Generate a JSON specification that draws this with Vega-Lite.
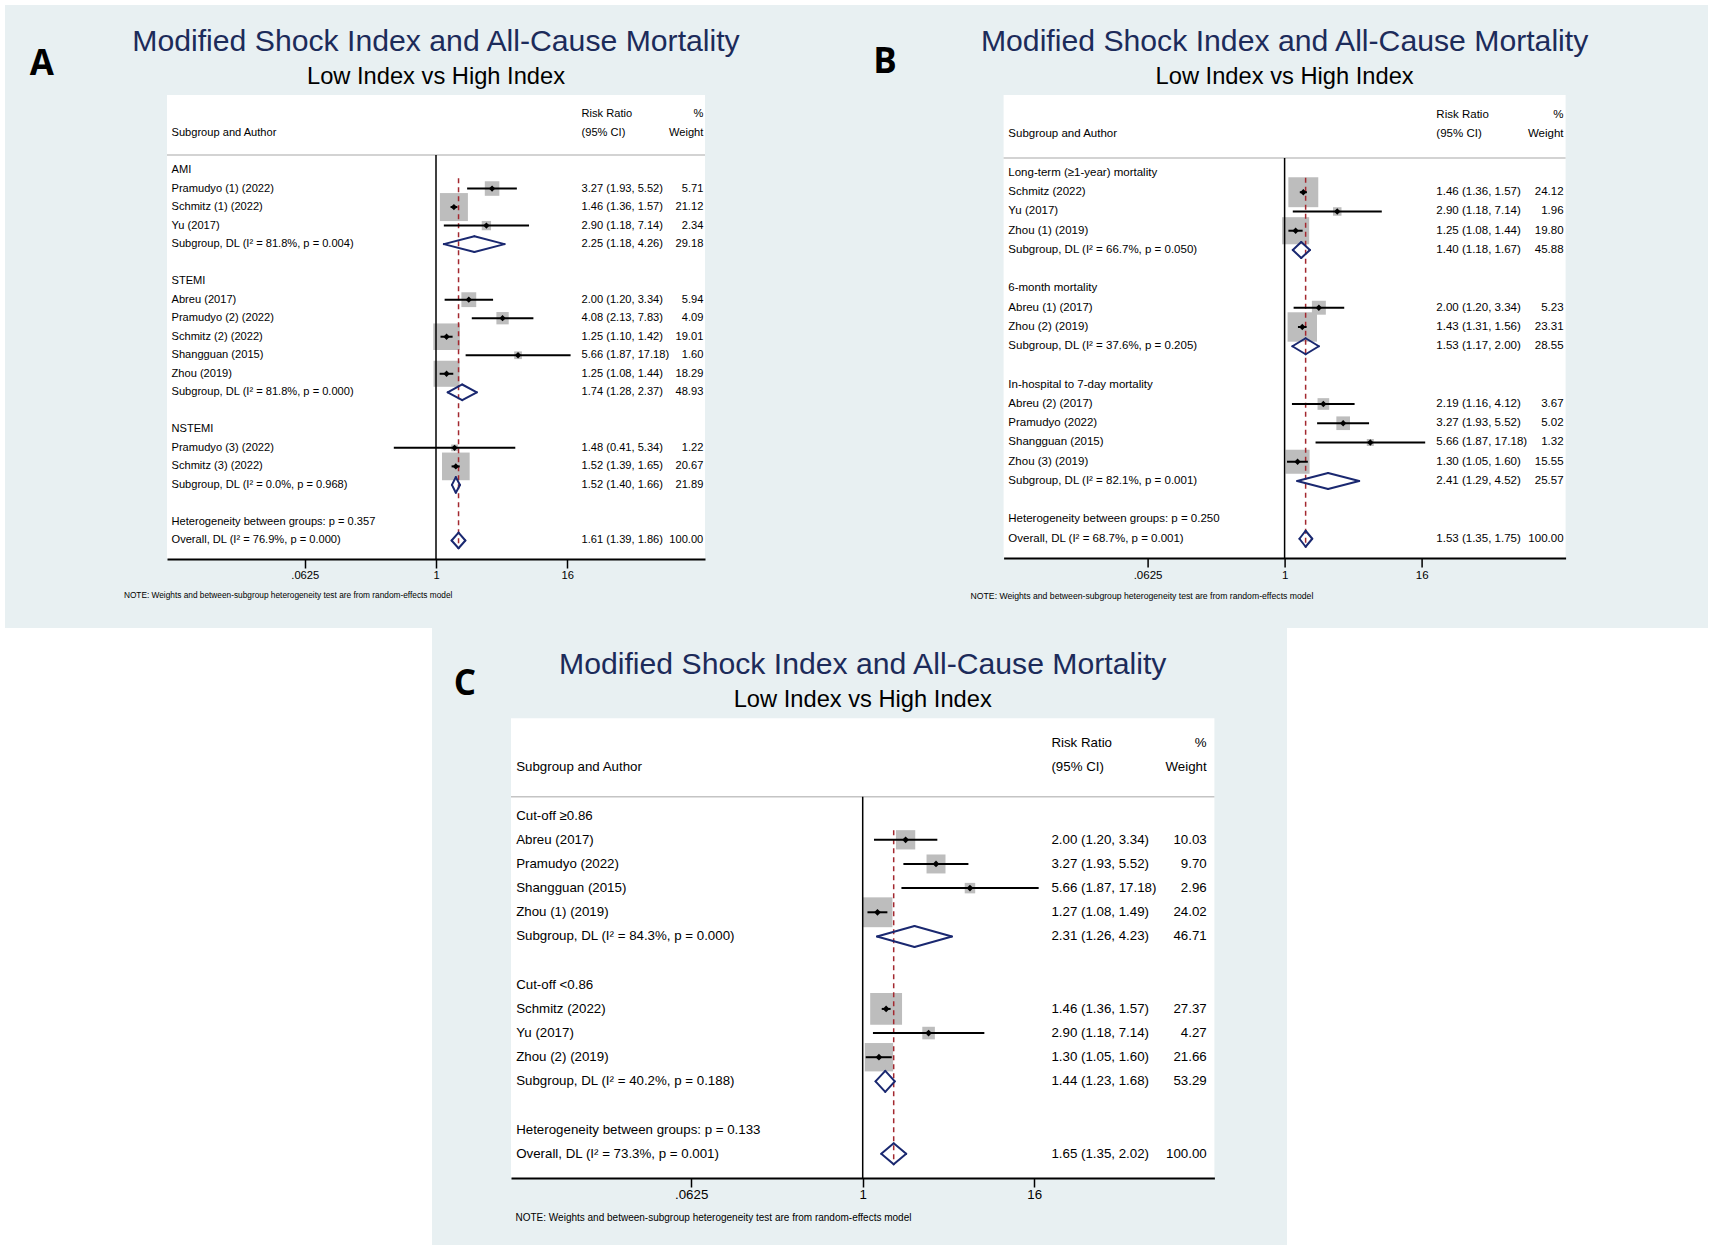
{
"$schema": "https://vega.github.io/schema/vega-lite/v6.json",
"padding": {"left": 5, "top": 4, "right": 5, "bottom": 0},
"background": "#ffffff",
"config": {"view": {"stroke": null}, "axis": {"grid": false}},
"datasets": {
"rows": [
{"p":"A","row":-3,"kind":"head","label":"","ci":"Risk Ratio","w":"%"},
{"p":"A","row":-2,"kind":"head","label":"Subgroup and Author","ci":"(95% CI)","w":"Weight"},
{"p":"A","row":0,"kind":"group","label":"AMI"},
{"p":"A","row":1,"kind":"study","label":"Pramudyo (1) (2022)","rr":3.27,"lo":1.93,"hi":5.52,"wt":5.71,"ci":"3.27 (1.93, 5.52)","w":"5.71"},
{"p":"A","row":2,"kind":"study","label":"Schmitz (1) (2022)","rr":1.46,"lo":1.36,"hi":1.57,"wt":21.12,"ci":"1.46 (1.36, 1.57)","w":"21.12"},
{"p":"A","row":3,"kind":"study","label":"Yu (2017)","rr":2.90,"lo":1.18,"hi":7.14,"wt":2.34,"ci":"2.90 (1.18, 7.14)","w":"2.34"},
{"p":"A","row":4,"kind":"pooled","label":"Subgroup, DL (I² = 81.8%, p = 0.004)","rr":2.25,"lo":1.18,"hi":4.26,"wt":29.18,"ci":"2.25 (1.18, 4.26)","w":"29.18"},
{"p":"A","row":6,"kind":"group","label":"STEMI"},
{"p":"A","row":7,"kind":"study","label":"Abreu (2017)","rr":2.00,"lo":1.20,"hi":3.34,"wt":5.94,"ci":"2.00 (1.20, 3.34)","w":"5.94"},
{"p":"A","row":8,"kind":"study","label":"Pramudyo (2) (2022)","rr":4.08,"lo":2.13,"hi":7.83,"wt":4.09,"ci":"4.08 (2.13, 7.83)","w":"4.09"},
{"p":"A","row":9,"kind":"study","label":"Schmitz (2) (2022)","rr":1.25,"lo":1.10,"hi":1.42,"wt":19.01,"ci":"1.25 (1.10, 1.42)","w":"19.01"},
{"p":"A","row":10,"kind":"study","label":"Shangguan (2015)","rr":5.66,"lo":1.87,"hi":17.18,"wt":1.60,"ci":"5.66 (1.87, 17.18)","w":"1.60"},
{"p":"A","row":11,"kind":"study","label":"Zhou (2019)","rr":1.25,"lo":1.08,"hi":1.44,"wt":18.29,"ci":"1.25 (1.08, 1.44)","w":"18.29"},
{"p":"A","row":12,"kind":"pooled","label":"Subgroup, DL (I² = 81.8%, p = 0.000)","rr":1.74,"lo":1.28,"hi":2.37,"wt":48.93,"ci":"1.74 (1.28, 2.37)","w":"48.93"},
{"p":"A","row":14,"kind":"group","label":"NSTEMI"},
{"p":"A","row":15,"kind":"study","label":"Pramudyo (3) (2022)","rr":1.48,"lo":0.41,"hi":5.34,"wt":1.22,"ci":"1.48 (0.41, 5.34)","w":"1.22"},
{"p":"A","row":16,"kind":"study","label":"Schmitz (3) (2022)","rr":1.52,"lo":1.39,"hi":1.65,"wt":20.67,"ci":"1.52 (1.39, 1.65)","w":"20.67"},
{"p":"A","row":17,"kind":"pooled","label":"Subgroup, DL (I² = 0.0%, p = 0.968)","rr":1.52,"lo":1.40,"hi":1.66,"wt":21.89,"ci":"1.52 (1.40, 1.66)","w":"21.89"},
{"p":"A","row":19,"kind":"het","label":"Heterogeneity between groups: p = 0.357"},
{"p":"A","row":20,"kind":"overall","label":"Overall, DL (I² = 76.9%, p = 0.000)","rr":1.61,"lo":1.39,"hi":1.86,"wt":100,"ci":"1.61 (1.39, 1.86)","w":"100.00"},
{"p":"B","row":-3,"kind":"head","label":"","ci":"Risk Ratio","w":"%"},
{"p":"B","row":-2,"kind":"head","label":"Subgroup and Author","ci":"(95% CI)","w":"Weight"},
{"p":"B","row":0,"kind":"group","label":"Long-term (≥1-year) mortality"},
{"p":"B","row":1,"kind":"study","label":"Schmitz (2022)","rr":1.46,"lo":1.36,"hi":1.57,"wt":24.12,"ci":"1.46 (1.36, 1.57)","w":"24.12"},
{"p":"B","row":2,"kind":"study","label":"Yu (2017)","rr":2.90,"lo":1.18,"hi":7.14,"wt":1.96,"ci":"2.90 (1.18, 7.14)","w":"1.96"},
{"p":"B","row":3,"kind":"study","label":"Zhou (1) (2019)","rr":1.25,"lo":1.08,"hi":1.44,"wt":19.80,"ci":"1.25 (1.08, 1.44)","w":"19.80"},
{"p":"B","row":4,"kind":"pooled","label":"Subgroup, DL (I² = 66.7%, p = 0.050)","rr":1.40,"lo":1.18,"hi":1.67,"wt":45.88,"ci":"1.40 (1.18, 1.67)","w":"45.88"},
{"p":"B","row":6,"kind":"group","label":"6-month mortality"},
{"p":"B","row":7,"kind":"study","label":"Abreu (1) (2017)","rr":2.00,"lo":1.20,"hi":3.34,"wt":5.23,"ci":"2.00 (1.20, 3.34)","w":"5.23"},
{"p":"B","row":8,"kind":"study","label":"Zhou (2) (2019)","rr":1.43,"lo":1.31,"hi":1.56,"wt":23.31,"ci":"1.43 (1.31, 1.56)","w":"23.31"},
{"p":"B","row":9,"kind":"pooled","label":"Subgroup, DL (I² = 37.6%, p = 0.205)","rr":1.53,"lo":1.17,"hi":2.00,"wt":28.55,"ci":"1.53 (1.17, 2.00)","w":"28.55"},
{"p":"B","row":11,"kind":"group","label":"In-hospital to 7-day mortality"},
{"p":"B","row":12,"kind":"study","label":"Abreu (2) (2017)","rr":2.19,"lo":1.16,"hi":4.12,"wt":3.67,"ci":"2.19 (1.16, 4.12)","w":"3.67"},
{"p":"B","row":13,"kind":"study","label":"Pramudyo (2022)","rr":3.27,"lo":1.93,"hi":5.52,"wt":5.02,"ci":"3.27 (1.93, 5.52)","w":"5.02"},
{"p":"B","row":14,"kind":"study","label":"Shangguan (2015)","rr":5.66,"lo":1.87,"hi":17.18,"wt":1.32,"ci":"5.66 (1.87, 17.18)","w":"1.32"},
{"p":"B","row":15,"kind":"study","label":"Zhou (3) (2019)","rr":1.30,"lo":1.05,"hi":1.60,"wt":15.55,"ci":"1.30 (1.05, 1.60)","w":"15.55"},
{"p":"B","row":16,"kind":"pooled","label":"Subgroup, DL (I² = 82.1%, p = 0.001)","rr":2.41,"lo":1.29,"hi":4.52,"wt":25.57,"ci":"2.41 (1.29, 4.52)","w":"25.57"},
{"p":"B","row":18,"kind":"het","label":"Heterogeneity between groups: p = 0.250"},
{"p":"B","row":19,"kind":"overall","label":"Overall, DL (I² = 68.7%, p = 0.001)","rr":1.53,"lo":1.35,"hi":1.75,"wt":100,"ci":"1.53 (1.35, 1.75)","w":"100.00"},
{"p":"C","row":-3,"kind":"head","label":"","ci":"Risk Ratio","w":"%"},
{"p":"C","row":-2,"kind":"head","label":"Subgroup and Author","ci":"(95% CI)","w":"Weight"},
{"p":"C","row":0,"kind":"group","label":"Cut-off ≥0.86"},
{"p":"C","row":1,"kind":"study","label":"Abreu (2017)","rr":2.00,"lo":1.20,"hi":3.34,"wt":10.03,"ci":"2.00 (1.20, 3.34)","w":"10.03"},
{"p":"C","row":2,"kind":"study","label":"Pramudyo (2022)","rr":3.27,"lo":1.93,"hi":5.52,"wt":9.70,"ci":"3.27 (1.93, 5.52)","w":"9.70"},
{"p":"C","row":3,"kind":"study","label":"Shangguan (2015)","rr":5.66,"lo":1.87,"hi":17.18,"wt":2.96,"ci":"5.66 (1.87, 17.18)","w":"2.96"},
{"p":"C","row":4,"kind":"study","label":"Zhou (1) (2019)","rr":1.27,"lo":1.08,"hi":1.49,"wt":24.02,"ci":"1.27 (1.08, 1.49)","w":"24.02"},
{"p":"C","row":5,"kind":"pooled","label":"Subgroup, DL (I² = 84.3%, p = 0.000)","rr":2.31,"lo":1.26,"hi":4.23,"wt":46.71,"ci":"2.31 (1.26, 4.23)","w":"46.71"},
{"p":"C","row":7,"kind":"group","label":"Cut-off <0.86"},
{"p":"C","row":8,"kind":"study","label":"Schmitz (2022)","rr":1.46,"lo":1.36,"hi":1.57,"wt":27.37,"ci":"1.46 (1.36, 1.57)","w":"27.37"},
{"p":"C","row":9,"kind":"study","label":"Yu (2017)","rr":2.90,"lo":1.18,"hi":7.14,"wt":4.27,"ci":"2.90 (1.18, 7.14)","w":"4.27"},
{"p":"C","row":10,"kind":"study","label":"Zhou (2) (2019)","rr":1.30,"lo":1.05,"hi":1.60,"wt":21.66,"ci":"1.30 (1.05, 1.60)","w":"21.66"},
{"p":"C","row":11,"kind":"pooled","label":"Subgroup, DL (I² = 40.2%, p = 0.188)","rr":1.44,"lo":1.23,"hi":1.68,"wt":53.29,"ci":"1.44 (1.23, 1.68)","w":"53.29"},
{"p":"C","row":13,"kind":"het","label":"Heterogeneity between groups: p = 0.133"},
{"p":"C","row":14,"kind":"overall","label":"Overall, DL (I² = 73.3%, p = 0.001)","rr":1.65,"lo":1.35,"hi":2.02,"wt":100,"ci":"1.65 (1.35, 2.02)","w":"100.00"}
]
},
"spacing": 623.3,
"bounds": "flush",
"vconcat": [
{"hconcat": [
{
"width": 538, "height": 464,
"layer": [
{"data": {"values": [{}]}, "mark": {"type": "rect", "fill": "#e8f0f2"},
 "encoding": {
  "x": {"datum": 0.0001109, "type": "quantitative", "scale": {"type": "log", "domain": [0.0034, 294.07], "nice": false},
        "axis": {"zindex": 1, "values": [0.0625, 1, 16], "labelExpr": "datum.value < 0.1 ? '.0625' : datum.value < 2 ? '1' : '16'", "grid": false, "domainColor": "#000000", "domainWidth": 2, "tickColor": "#000000", "tickWidth": 1.5, "tickSize": 9, "labelFont": "Liberation Sans", "labelFontSize": 11.2, "labelColor": "#000000", "labelPadding": 1, "labelFlush": false, "title": "NOTE: Weights and between-subgroup heterogeneity test are from random-effects model", "titleFont": "Liberation Sans", "titleFontSize": 8.3, "titleFontWeight": "normal", "titleColor": "#000000", "titleX": -43.6, "titleY": 36.2, "titleAlign": "left", "titleBaseline": "middle"}},
  "x2": {"datum": 7777},
  "y": {"datum": -8.909, "type": "quantitative", "scale": {"domain": [-4.05, 21], "reverse": true, "nice": false, "zero": false}, "axis": null},
  "y2": {"datum": 24.725}}},
{"data": {"values": [{}]}, "mark": {"type": "rect", "fill": "#ffffff"},
 "encoding": {"x": {"datum": 0.0034, "type": "quantitative"}, "x2": {"datum": 294.07}, "y": {"datum": -4.05, "type": "quantitative", "axis": null}, "y2": {"datum": 21}}},
{"data": {"values": [{}]}, "mark": {"type": "rule", "stroke": "#c4c4c4", "strokeWidth": 1.5},
 "encoding": {"x": {"datum": 0.0034, "type": "quantitative"}, "x2": {"datum": 294.07}, "y": {"datum": -0.81, "type": "quantitative", "axis": null}}},
{"data": {"name": "rows"}, "transform": [{"filter": "datum.p === 'A' && datum.kind === 'study'"}],
 "mark": {"type": "point", "shape": "square", "filled": true, "color": "#bdbdbd", "opacity": 1},
 "encoding": {"x": {"field": "rr", "type": "quantitative"}, "y": {"field": "row", "type": "quantitative", "axis": null},
  "size": {"field": "wt", "type": "quantitative", "scale": {"domain": [0, 100], "range": [0, 3710]}, "legend": null}}},
{"data": {"values": [{}]}, "mark": {"type": "rule", "stroke": "#000000", "strokeWidth": 1.5},
 "encoding": {"x": {"datum": 1, "type": "quantitative"}, "y": {"datum": -0.81, "type": "quantitative", "axis": null}, "y2": {"datum": 21}}},
{"data": {"values": [{}]}, "mark": {"type": "rule", "stroke": "#a3282f", "strokeWidth": 1.5, "strokeDash": [5, 4]},
 "encoding": {"x": {"datum": 1.61, "type": "quantitative"}, "y": {"datum": 0.45, "type": "quantitative", "axis": null}, "y2": {"datum": 20.45}}},
{"data": {"name": "rows"}, "transform": [{"filter": "datum.p === 'A' && datum.kind === 'study'"}],
 "mark": {"type": "rule", "stroke": "#000000", "strokeWidth": 2},
 "encoding": {"x": {"field": "lo", "type": "quantitative"}, "x2": {"field": "hi"}, "y": {"field": "row", "type": "quantitative", "axis": null}}},
{"data": {"name": "rows"}, "transform": [{"filter": "datum.p === 'A' && datum.kind === 'study'"}],
 "mark": {"type": "point", "shape": "diamond", "filled": true, "color": "#000000", "opacity": 1, "size": 40},
 "encoding": {"x": {"field": "rr", "type": "quantitative"}, "y": {"field": "row", "type": "quantitative", "axis": null}}},
{"data": {"name": "rows"}, "transform": [{"filter": "datum.p === 'A' && (datum.kind === 'pooled' || datum.kind === 'overall')"}],
 "mark": {"type": "rule", "stroke": "#1a2870", "strokeWidth": 2, "strokeCap": "round", "y2Offset": -7.8},
 "encoding": {"x": {"field": "lo", "type": "quantitative"}, "x2": {"field": "rr"}, "y": {"field": "row", "type": "quantitative", "axis": null}, "y2": {"field": "row"}}},
{"data": {"name": "rows"}, "transform": [{"filter": "datum.p === 'A' && (datum.kind === 'pooled' || datum.kind === 'overall')"}],
 "mark": {"type": "rule", "stroke": "#1a2870", "strokeWidth": 2, "strokeCap": "round", "y2Offset": 7.8},
 "encoding": {"x": {"field": "lo", "type": "quantitative"}, "x2": {"field": "rr"}, "y": {"field": "row", "type": "quantitative", "axis": null}, "y2": {"field": "row"}}},
{"data": {"name": "rows"}, "transform": [{"filter": "datum.p === 'A' && (datum.kind === 'pooled' || datum.kind === 'overall')"}],
 "mark": {"type": "rule", "stroke": "#1a2870", "strokeWidth": 2, "strokeCap": "round", "yOffset": -7.8},
 "encoding": {"x": {"field": "rr", "type": "quantitative"}, "x2": {"field": "hi"}, "y": {"field": "row", "type": "quantitative", "axis": null}, "y2": {"field": "row"}}},
{"data": {"name": "rows"}, "transform": [{"filter": "datum.p === 'A' && (datum.kind === 'pooled' || datum.kind === 'overall')"}],
 "mark": {"type": "rule", "stroke": "#1a2870", "strokeWidth": 2, "strokeCap": "round", "yOffset": 7.8},
 "encoding": {"x": {"field": "rr", "type": "quantitative"}, "x2": {"field": "hi"}, "y": {"field": "row", "type": "quantitative", "axis": null}, "y2": {"field": "row"}}},
{"data": {"name": "rows"}, "transform": [{"filter": "datum.p === 'A'"}],
 "mark": {"type": "text", "align": "left", "baseline": "middle", "font": "Liberation Sans", "fontSize": 11.1, "color": "#000000"},
 "encoding": {"x": {"datum": 0.00374, "type": "quantitative"}, "y": {"field": "row", "type": "quantitative", "axis": null}, "text": {"field": "label"}}},
{"data": {"name": "rows"}, "transform": [{"filter": "datum.p === 'A' && datum.ci"}],
 "mark": {"type": "text", "align": "left", "baseline": "middle", "font": "Liberation Sans", "fontSize": 11.1, "color": "#000000"},
 "encoding": {"x": {"datum": 21.66, "type": "quantitative"}, "y": {"field": "row", "type": "quantitative", "axis": null}, "text": {"field": "ci"}}},
{"data": {"name": "rows"}, "transform": [{"filter": "datum.p === 'A' && datum.w"}],
 "mark": {"type": "text", "align": "right", "baseline": "middle", "font": "Liberation Sans", "fontSize": 11.1, "color": "#000000"},
 "encoding": {"x": {"datum": 283.7, "type": "quantitative"}, "y": {"field": "row", "type": "quantitative", "axis": null}, "text": {"field": "w"}}},
{"data": {"values": [{}]}, "mark": {"type": "text", "align": "center", "baseline": "alphabetic", "font": "Liberation Sans", "fontSize": 30.2, "color": "#1c2b5a"},
 "encoding": {"x": {"datum": 1, "type": "quantitative"}, "y": {"datum": -6.425, "type": "quantitative", "axis": null}, "text": {"value": "Modified Shock Index and All-Cause Mortality"}}},
{"data": {"values": [{}]}, "mark": {"type": "text", "align": "center", "baseline": "alphabetic", "font": "Liberation Sans", "fontSize": 23.7, "color": "#000000"},
 "encoding": {"x": {"datum": 1, "type": "quantitative"}, "y": {"datum": -4.628, "type": "quantitative", "axis": null}, "text": {"value": "Low Index vs High Index"}}},
{"data": {"values": [{}]}, "mark": {"type": "text", "align": "center", "baseline": "alphabetic", "font": "Open Sans", "fontWeight": "bold", "fontSize": 35, "color": "#000000"},
 "encoding": {"x": {"datum": 0.0002414, "type": "quantitative"}, "y": {"datum": -5.13, "type": "quantitative", "axis": null}, "text": {"value": "A"}}}
]
},
{
"width": 562, "height": 463,
"layer": [
{"data": {"values": [{}]}, "mark": {"type": "rect", "fill": "#e8f0f2"},
 "encoding": {
  "x": {"datum": 0.0001526, "type": "quantitative", "scale": {"type": "log", "domain": [0.0034, 294.07], "nice": false},
        "axis": {"zindex": 1, "values": [0.0625, 1, 16], "labelExpr": "datum.value < 0.1 ? '.0625' : datum.value < 2 ? '1' : '16'", "grid": false, "domainColor": "#000000", "domainWidth": 2, "tickColor": "#000000", "tickWidth": 1.5, "tickSize": 9, "labelFont": "Liberation Sans", "labelFontSize": 11.5, "labelColor": "#000000", "labelPadding": 2.3, "labelFlush": false, "title": "NOTE: Weights and between-subgroup heterogeneity test are from random-effects model", "titleFont": "Liberation Sans", "titleFontSize": 8.66, "titleFontWeight": "normal", "titleColor": "#000000", "titleX": -33.5, "titleY": 37.2, "titleAlign": "left", "titleBaseline": "middle"}},
  "x2": {"datum": 5239},
  "y": {"datum": -8.725, "type": "quantitative", "scale": {"domain": [-4.05, 20], "reverse": true, "nice": false, "zero": false}, "axis": null},
  "y2": {"datum": 23.635}}},
{"data": {"values": [{}]}, "mark": {"type": "rect", "fill": "#ffffff"},
 "encoding": {"x": {"datum": 0.0034, "type": "quantitative"}, "x2": {"datum": 294.07}, "y": {"datum": -4.05, "type": "quantitative", "axis": null}, "y2": {"datum": 20}}},
{"data": {"values": [{}]}, "mark": {"type": "rule", "stroke": "#c4c4c4", "strokeWidth": 1.5},
 "encoding": {"x": {"datum": 0.0034, "type": "quantitative"}, "x2": {"datum": 294.07}, "y": {"datum": -0.777, "type": "quantitative", "axis": null}}},
{"data": {"name": "rows"}, "transform": [{"filter": "datum.p === 'B' && datum.kind === 'study'"}],
 "mark": {"type": "point", "shape": "square", "filled": true, "color": "#bdbdbd", "opacity": 1},
 "encoding": {"x": {"field": "rr", "type": "quantitative"}, "y": {"field": "row", "type": "quantitative", "axis": null},
  "size": {"field": "wt", "type": "quantitative", "scale": {"domain": [0, 100], "range": [0, 3340]}, "legend": null}}},
{"data": {"values": [{}]}, "mark": {"type": "rule", "stroke": "#000000", "strokeWidth": 1.5},
 "encoding": {"x": {"datum": 1, "type": "quantitative"}, "y": {"datum": -0.777, "type": "quantitative", "axis": null}, "y2": {"datum": 20}}},
{"data": {"values": [{}]}, "mark": {"type": "rule", "stroke": "#a3282f", "strokeWidth": 1.5, "strokeDash": [5, 4]},
 "encoding": {"x": {"datum": 1.53, "type": "quantitative"}, "y": {"datum": 0.25, "type": "quantitative", "axis": null}, "y2": {"datum": 19.45}}},
{"data": {"name": "rows"}, "transform": [{"filter": "datum.p === 'B' && datum.kind === 'study'"}],
 "mark": {"type": "rule", "stroke": "#000000", "strokeWidth": 2},
 "encoding": {"x": {"field": "lo", "type": "quantitative"}, "x2": {"field": "hi"}, "y": {"field": "row", "type": "quantitative", "axis": null}}},
{"data": {"name": "rows"}, "transform": [{"filter": "datum.p === 'B' && datum.kind === 'study'"}],
 "mark": {"type": "point", "shape": "diamond", "filled": true, "color": "#000000", "opacity": 1, "size": 40},
 "encoding": {"x": {"field": "rr", "type": "quantitative"}, "y": {"field": "row", "type": "quantitative", "axis": null}}},
{"data": {"name": "rows"}, "transform": [{"filter": "datum.p === 'B' && (datum.kind === 'pooled' || datum.kind === 'overall')"}],
 "mark": {"type": "rule", "stroke": "#1a2870", "strokeWidth": 2, "strokeCap": "round", "y2Offset": -8},
 "encoding": {"x": {"field": "lo", "type": "quantitative"}, "x2": {"field": "rr"}, "y": {"field": "row", "type": "quantitative", "axis": null}, "y2": {"field": "row"}}},
{"data": {"name": "rows"}, "transform": [{"filter": "datum.p === 'B' && (datum.kind === 'pooled' || datum.kind === 'overall')"}],
 "mark": {"type": "rule", "stroke": "#1a2870", "strokeWidth": 2, "strokeCap": "round", "y2Offset": 8},
 "encoding": {"x": {"field": "lo", "type": "quantitative"}, "x2": {"field": "rr"}, "y": {"field": "row", "type": "quantitative", "axis": null}, "y2": {"field": "row"}}},
{"data": {"name": "rows"}, "transform": [{"filter": "datum.p === 'B' && (datum.kind === 'pooled' || datum.kind === 'overall')"}],
 "mark": {"type": "rule", "stroke": "#1a2870", "strokeWidth": 2, "strokeCap": "round", "yOffset": -8},
 "encoding": {"x": {"field": "rr", "type": "quantitative"}, "x2": {"field": "hi"}, "y": {"field": "row", "type": "quantitative", "axis": null}, "y2": {"field": "row"}}},
{"data": {"name": "rows"}, "transform": [{"filter": "datum.p === 'B' && (datum.kind === 'pooled' || datum.kind === 'overall')"}],
 "mark": {"type": "rule", "stroke": "#1a2870", "strokeWidth": 2, "strokeCap": "round", "yOffset": 8},
 "encoding": {"x": {"field": "rr", "type": "quantitative"}, "x2": {"field": "hi"}, "y": {"field": "row", "type": "quantitative", "axis": null}, "y2": {"field": "row"}}},
{"data": {"name": "rows"}, "transform": [{"filter": "datum.p === 'B'"}],
 "mark": {"type": "text", "align": "left", "baseline": "middle", "font": "Liberation Sans", "fontSize": 11.5, "color": "#000000"},
 "encoding": {"x": {"datum": 0.00374, "type": "quantitative"}, "y": {"field": "row", "type": "quantitative", "axis": null}, "text": {"field": "label"}}},
{"data": {"name": "rows"}, "transform": [{"filter": "datum.p === 'B' && datum.ci"}],
 "mark": {"type": "text", "align": "left", "baseline": "middle", "font": "Liberation Sans", "fontSize": 11.5, "color": "#000000"},
 "encoding": {"x": {"datum": 21.54, "type": "quantitative"}, "y": {"field": "row", "type": "quantitative", "axis": null}, "text": {"field": "ci"}}},
{"data": {"name": "rows"}, "transform": [{"filter": "datum.p === 'B' && datum.w"}],
 "mark": {"type": "text", "align": "right", "baseline": "middle", "font": "Liberation Sans", "fontSize": 11.5, "color": "#000000"},
 "encoding": {"x": {"datum": 282.1, "type": "quantitative"}, "y": {"field": "row", "type": "quantitative", "axis": null}, "text": {"field": "w"}}},
{"data": {"values": [{}]}, "mark": {"type": "text", "align": "center", "baseline": "alphabetic", "font": "Liberation Sans", "fontSize": 30.2, "color": "#1c2b5a"},
 "encoding": {"x": {"datum": 1, "type": "quantitative"}, "y": {"datum": -6.336, "type": "quantitative", "axis": null}, "text": {"value": "Modified Shock Index and All-Cause Mortality"}}},
{"data": {"values": [{}]}, "mark": {"type": "text", "align": "center", "baseline": "alphabetic", "font": "Liberation Sans", "fontSize": 23.7, "color": "#000000"},
 "encoding": {"x": {"datum": 1, "type": "quantitative"}, "y": {"datum": -4.606, "type": "quantitative", "axis": null}, "text": {"value": "Low Index vs High Index"}}},
{"data": {"values": [{}]}, "mark": {"type": "text", "align": "center", "baseline": "alphabetic", "font": "Open Sans", "fontWeight": "bold", "fontSize": 35, "color": "#000000"},
 "encoding": {"x": {"datum": 0.000309, "type": "quantitative"}, "y": {"datum": -5.21, "type": "quantitative", "axis": null}, "text": {"value": "B"}}}
]
}
], "spacing": 298.6, "bounds": "flush"},
{"hconcat": [
{
"width": 344, "height": 1,
"data": {"values": []},
"mark": "point"
},
{
"width": 703.4, "height": 459.7,
"layer": [
{"data": {"values": [{}]}, "mark": {"type": "rect", "fill": "#e8f0f2"},
 "encoding": {
  "x": {"datum": 0.0009486, "type": "quantitative", "scale": {"type": "log", "domain": [0.0034, 294.07], "nice": false},
        "axis": {"zindex": 1, "values": [0.0625, 1, 16], "labelExpr": "datum.value < 0.1 ? '.0625' : datum.value < 2 ? '1' : '16'", "grid": false, "domainColor": "#000000", "domainWidth": 2, "tickColor": "#000000", "tickWidth": 1.5, "tickSize": 9, "labelFont": "Liberation Sans", "labelFontSize": 13.3, "labelColor": "#000000", "labelPadding": 0.6, "labelFlush": false, "title": "NOTE: Weights and between-subgroup heterogeneity test are from random-effects model", "titleFont": "Liberation Sans", "titleFontSize": 10, "titleFontWeight": "normal", "titleColor": "#000000", "titleX": 4, "titleY": 39.6, "titleAlign": "left", "titleBaseline": "middle"}},
  "x2": {"datum": 950.9},
  "y": {"datum": -7.768, "type": "quantitative", "scale": {"domain": [-4.03, 15], "reverse": true, "nice": false, "zero": false}, "axis": null},
  "y2": {"datum": 17.815}}},
{"data": {"values": [{}]}, "mark": {"type": "rect", "fill": "#ffffff"},
 "encoding": {"x": {"datum": 0.0034, "type": "quantitative"}, "x2": {"datum": 294.07}, "y": {"datum": -4.03, "type": "quantitative", "axis": null}, "y2": {"datum": 15}}},
{"data": {"values": [{}]}, "mark": {"type": "rule", "stroke": "#c4c4c4", "strokeWidth": 1.5},
 "encoding": {"x": {"datum": 0.0034, "type": "quantitative"}, "x2": {"datum": 294.07}, "y": {"datum": -0.785, "type": "quantitative", "axis": null}}},
{"data": {"name": "rows"}, "transform": [{"filter": "datum.p === 'C' && datum.kind === 'study'"}],
 "mark": {"type": "point", "shape": "square", "filled": true, "color": "#bdbdbd", "opacity": 1},
 "encoding": {"x": {"field": "rr", "type": "quantitative"}, "y": {"field": "row", "type": "quantitative", "axis": null},
  "size": {"field": "wt", "type": "quantitative", "scale": {"domain": [0, 100], "range": [0, 1500]}, "legend": null}}},
{"data": {"values": [{}]}, "mark": {"type": "rule", "stroke": "#000000", "strokeWidth": 1.5},
 "encoding": {"x": {"datum": 1, "type": "quantitative"}, "y": {"datum": -0.785, "type": "quantitative", "axis": null}, "y2": {"datum": 15}}},
{"data": {"values": [{}]}, "mark": {"type": "rule", "stroke": "#a3282f", "strokeWidth": 1.5, "strokeDash": [5, 4]},
 "encoding": {"x": {"datum": 1.65, "type": "quantitative"}, "y": {"datum": 0.6, "type": "quantitative", "axis": null}, "y2": {"datum": 14.45}}},
{"data": {"name": "rows"}, "transform": [{"filter": "datum.p === 'C' && datum.kind === 'study'"}],
 "mark": {"type": "rule", "stroke": "#000000", "strokeWidth": 2},
 "encoding": {"x": {"field": "lo", "type": "quantitative"}, "x2": {"field": "hi"}, "y": {"field": "row", "type": "quantitative", "axis": null}}},
{"data": {"name": "rows"}, "transform": [{"filter": "datum.p === 'C' && datum.kind === 'study'"}],
 "mark": {"type": "point", "shape": "diamond", "filled": true, "color": "#000000", "opacity": 1, "size": 45},
 "encoding": {"x": {"field": "rr", "type": "quantitative"}, "y": {"field": "row", "type": "quantitative", "axis": null}}},
{"data": {"name": "rows"}, "transform": [{"filter": "datum.p === 'C' && (datum.kind === 'pooled' || datum.kind === 'overall')"}],
 "mark": {"type": "rule", "stroke": "#1a2870", "strokeWidth": 2, "strokeCap": "round", "y2Offset": -10.5},
 "encoding": {"x": {"field": "lo", "type": "quantitative"}, "x2": {"field": "rr"}, "y": {"field": "row", "type": "quantitative", "axis": null}, "y2": {"field": "row"}}},
{"data": {"name": "rows"}, "transform": [{"filter": "datum.p === 'C' && (datum.kind === 'pooled' || datum.kind === 'overall')"}],
 "mark": {"type": "rule", "stroke": "#1a2870", "strokeWidth": 2, "strokeCap": "round", "y2Offset": 10.5},
 "encoding": {"x": {"field": "lo", "type": "quantitative"}, "x2": {"field": "rr"}, "y": {"field": "row", "type": "quantitative", "axis": null}, "y2": {"field": "row"}}},
{"data": {"name": "rows"}, "transform": [{"filter": "datum.p === 'C' && (datum.kind === 'pooled' || datum.kind === 'overall')"}],
 "mark": {"type": "rule", "stroke": "#1a2870", "strokeWidth": 2, "strokeCap": "round", "yOffset": -10.5},
 "encoding": {"x": {"field": "rr", "type": "quantitative"}, "x2": {"field": "hi"}, "y": {"field": "row", "type": "quantitative", "axis": null}, "y2": {"field": "row"}}},
{"data": {"name": "rows"}, "transform": [{"filter": "datum.p === 'C' && (datum.kind === 'pooled' || datum.kind === 'overall')"}],
 "mark": {"type": "rule", "stroke": "#1a2870", "strokeWidth": 2, "strokeCap": "round", "yOffset": 10.5},
 "encoding": {"x": {"field": "rr", "type": "quantitative"}, "x2": {"field": "hi"}, "y": {"field": "row", "type": "quantitative", "axis": null}, "y2": {"field": "row"}}},
{"data": {"name": "rows"}, "transform": [{"filter": "datum.p === 'C'"}],
 "mark": {"type": "text", "align": "left", "baseline": "middle", "font": "Liberation Sans", "fontSize": 13.3, "color": "#000000"},
 "encoding": {"x": {"datum": 0.003697, "type": "quantitative"}, "y": {"field": "row", "type": "quantitative", "axis": null}, "text": {"field": "label"}}},
{"data": {"name": "rows"}, "transform": [{"filter": "datum.p === 'C' && datum.ci"}],
 "mark": {"type": "text", "align": "left", "baseline": "middle", "font": "Liberation Sans", "fontSize": 13.3, "color": "#000000"},
 "encoding": {"x": {"datum": 21.11, "type": "quantitative"}, "y": {"field": "row", "type": "quantitative", "axis": null}, "text": {"field": "ci"}}},
{"data": {"name": "rows"}, "transform": [{"filter": "datum.p === 'C' && datum.w"}],
 "mark": {"type": "text", "align": "right", "baseline": "middle", "font": "Liberation Sans", "fontSize": 13.3, "color": "#000000"},
 "encoding": {"x": {"datum": 259.6, "type": "quantitative"}, "y": {"field": "row", "type": "quantitative", "axis": null}, "text": {"field": "w"}}},
{"data": {"values": [{}]}, "mark": {"type": "text", "align": "center", "baseline": "alphabetic", "font": "Liberation Sans", "fontSize": 30.2, "color": "#1c2b5a"},
 "encoding": {"x": {"datum": 1, "type": "quantitative"}, "y": {"datum": -5.851, "type": "quantitative", "axis": null}, "text": {"value": "Modified Shock Index and All-Cause Mortality"}}},
{"data": {"values": [{}]}, "mark": {"type": "text", "align": "center", "baseline": "alphabetic", "font": "Liberation Sans", "fontSize": 23.7, "color": "#000000"},
 "encoding": {"x": {"datum": 1, "type": "quantitative"}, "y": {"datum": -4.498, "type": "quantitative", "axis": null}, "text": {"value": "Low Index vs High Index"}}},
{"data": {"values": [{}]}, "mark": {"type": "text", "align": "center", "baseline": "alphabetic", "font": "Open Sans", "fontWeight": "bold", "fontSize": 35, "color": "#000000"},
 "encoding": {"x": {"datum": 0.001617, "type": "quantitative"}, "y": {"datum": -4.995, "type": "quantitative", "axis": null}, "text": {"value": "C"}}}
]
}
], "spacing": 0, "bounds": "flush"}
]
}
